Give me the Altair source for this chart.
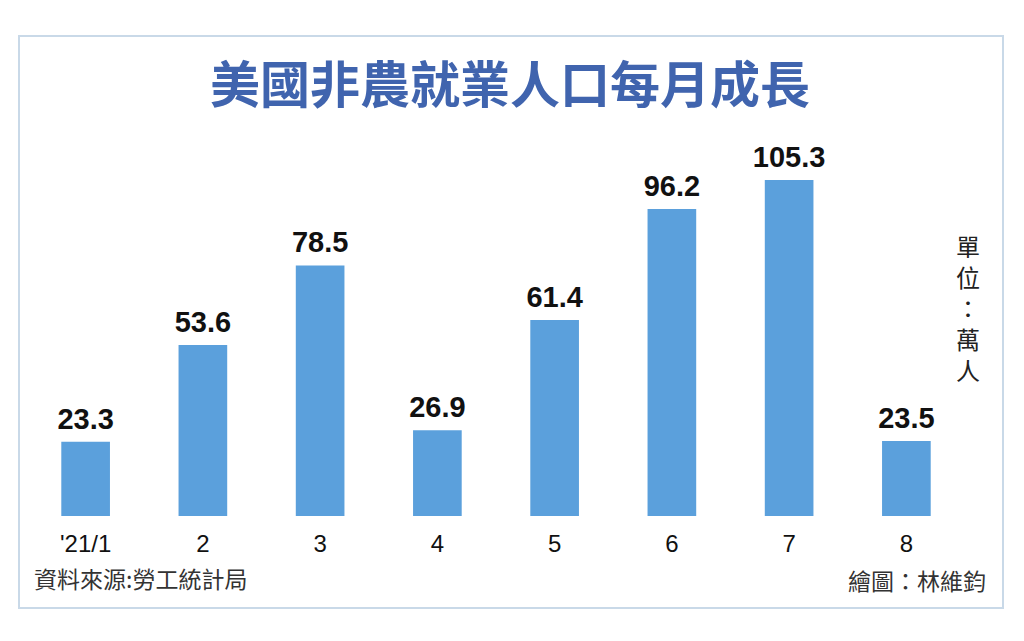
import altair as alt
import pandas as pd

months = ["'21/1", "2", "3", "4", "5", "6", "7", "8"]
values = [23.3, 53.6, 78.5, 26.9, 61.4, 96.2, 105.3, 23.5]
title_text = "美國非農就業人口每月成長"
source_text = "資料來源:勞工統計局"
credit_text = "繪圖：林維鈞"
unit_text = ["單", "位", "：", "萬", "人"]

df = pd.DataFrame({"month": months, "value": values,
                   "label": [f"{v:.1f}" for v in values]})

W = 938
H = 383
x = alt.X("month:N", sort=months,
          scale=alt.Scale(paddingInner=0.585, paddingOuter=0.2925),
          axis=alt.Axis(title=None, labelAngle=0, domain=False, ticks=False,
                        labelFontSize=24, labelFont="Liberation Sans",
                        labelColor="#111111", labelPadding=16))
y = alt.Y("value:Q", scale=alt.Scale(domain=[0, 120]), axis=None)

frame = alt.Chart(df).mark_rect(
    fill="transparent", stroke="#c9d9e8", strokeWidth=2, clip=False
).encode(x=alt.value(-8), x2=alt.value(976), y=alt.value(-97), y2=alt.value(475))

bars = alt.Chart(df).mark_bar(color="#5ba0dc").encode(x=x, y=y)

labels = alt.Chart(df).mark_text(
    baseline="alphabetic", dy=-13, fontSize=29, fontWeight="bold",
    font="Liberation Sans", color="#111111"
).encode(x=x, y=y, text="label:N")

title = alt.Chart(pd.DataFrame({"t": [title_text]})).mark_text(
    align="center", baseline="middle", fontSize=50, fontWeight="bold",
    font="Noto Sans CJK TC", color="#4064ae"
).encode(x=alt.value(483), y=alt.value(-45), text="t:N")

source = alt.Chart(pd.DataFrame({"t": [source_text]})).mark_text(
    align="left", baseline="middle", fontSize=23, font="Noto Sans CJK TC",
    color="#333333"
).encode(x=alt.value(7), y=alt.value(448), text="t:N")

credit = alt.Chart(pd.DataFrame({"t": [credit_text]})).mark_text(
    align="right", baseline="middle", fontSize=23, font="Noto Sans CJK TC",
    color="#333333"
).encode(x=alt.value(959), y=alt.value(450), text="t:N")

unit = alt.Chart(pd.DataFrame({"t": [unit_text]})).mark_text(
    align="center", baseline="top", fontSize=24, lineHeight=31,
    font="Noto Sans CJK TC", color="#222222"
).encode(x=alt.value(941), y=alt.value(104), text="t:N")

chart = alt.layer(frame, title, bars, labels, source, credit, unit).properties(
    width=W, height=H,
    background="white",
    autosize=alt.AutoSizeParams(type="none"),
    padding={"left": 19, "top": 125, "right": 50, "bottom": 100},
).configure_view(strokeWidth=0, stroke="transparent")

chart.save("out.html", embed_options={"renderer": "svg", "actions": False})
